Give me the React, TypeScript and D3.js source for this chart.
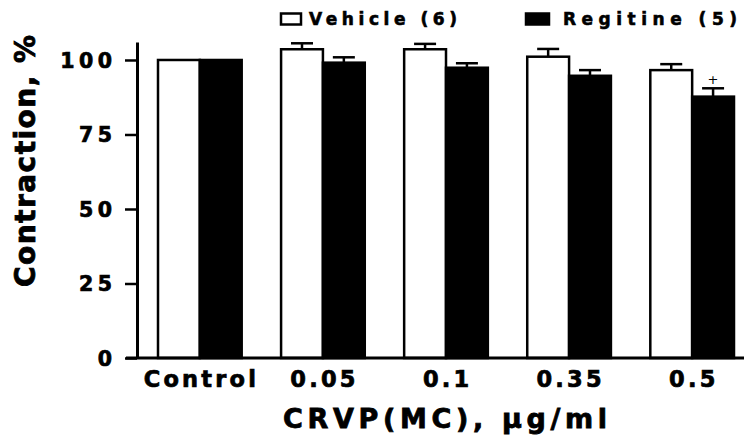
import React, { useRef, useEffect } from 'react'
import * as d3 from 'd3'

// values (mean, error bar above the mean)
const categories = ['Control', '0.05', '0.1', '0.35', '0.5']
const vehicleMean = [100, 103.6, 103.6, 101.1, 96.6]
const vehicleSem = [0, 2.0, 1.8, 2.6, 2.0]
const regitineMean = [100, 99.1, 97.4, 94.7, 87.7]
const regitineSem = [0, 1.8, 1.5, 1.9, 2.8]
const regitineMarked = [false, false, false, false, true] // '+' mark
const yTicks = [0, 25, 50, 75, 100]
const seriesNames = ['Vehicle (6)', 'Regitine (5)']

const FONT = "'DejaVu Sans', 'Liberation Sans', Arial, sans-serif"

const App = () => {
	const svgRef = useRef<SVGSVGElement | null>(null)
	const width = 744,
		height = 441

	useEffect(() => {
		const svg = d3.select(svgRef.current)
		svg.selectAll('*').remove()

		const y = d3.scaleLinear().domain([0, 106]).range([358, 42.1])
		const x = d3
			.scaleBand()
			.domain(categories)
			.range([142, 750])
			.paddingInner(0.32)
			.paddingOuter(0.13)
		const xSub = d3
			.scaleBand()
			.domain(['vehicle', 'regitine'])
			.range([0, x.bandwidth()])

		const bars = categories.flatMap((c, i) => [
			{ cat: c, key: 'vehicle', mean: vehicleMean[i], sem: vehicleSem[i], fill: '#fff', mark: false },
			{ cat: c, key: 'regitine', mean: regitineMean[i], sem: regitineSem[i], fill: '#000', mark: regitineMarked[i] },
		])
		const cx = (d: any) => x(d.cat)! + xSub(d.key)! + xSub.bandwidth() / 2

		// bars
		svg
			.append('g')
			.selectAll('rect')
			.data(bars)
			.enter()
			.append('rect')
			.attr('x', (d) => x(d.cat)! + xSub(d.key)!)
			.attr('y', (d) => y(d.mean))
			.attr('width', xSub.bandwidth())
			.attr('height', (d) => y(0) - y(d.mean))
			.attr('fill', (d) => d.fill)
			.attr('stroke', '#000')
			.attr('stroke-width', 2.5)

		// error bars (upper half only)
		const err = svg
			.append('g')
			.selectAll('g')
			.data(bars.filter((d) => d.sem > 0))
			.enter()
			.append('g')
			.attr('stroke', '#000')
			.attr('stroke-width', 2.5)
		err
			.append('line')
			.attr('x1', cx)
			.attr('x2', cx)
			.attr('y1', (d) => y(d.mean))
			.attr('y2', (d) => y(d.mean + d.sem))
		err
			.append('line')
			.attr('x1', (d) => cx(d) - 11)
			.attr('x2', (d) => cx(d) + 11)
			.attr('y1', (d) => y(d.mean + d.sem))
			.attr('y2', (d) => y(d.mean + d.sem))

		svg
			.append('g')
			.selectAll('text')
			.data(bars.filter((d) => d.mark))
			.enter()
			.append('text')
			.attr('x', cx)
			.attr('y', (d) => y(d.mean + d.sem) - 4)
			.attr('text-anchor', 'middle')
			.attr('font-family', FONT)
			.attr('font-size', 13)
			.text('+')

		// y axis
		const yLs = 4.5
		const yAxis = svg
			.append('g')
			.attr('transform', 'translate(137,0)')
			.call(d3.axisLeft(y).tickValues(yTicks).tickSize(12).tickSizeOuter(0).tickPadding(13))
		yAxis.select('.domain').attr('stroke-width', 3)
		yAxis.selectAll('.tick line').attr('stroke-width', 2.5)
		yAxis
			.selectAll('.tick text')
			.attr('font-family', FONT)
			.attr('font-weight', 'bold')
			.attr('font-size', 20.5)
			.attr('letter-spacing', yLs)
			.attr('dx', yLs)
			.attr('dy', '0.36em')
			.attr('fill', '#000')
			.attr('stroke', '#000')
			.attr('stroke-width', 0.7)

		// x axis
		svg
			.append('line')
			.attr('x1', 126)
			.attr('x2', 744)
			.attr('y1', y(0))
			.attr('y2', y(0))
			.attr('stroke', '#000')
			.attr('stroke-width', 3)
		const xLs = 3.2
		const xAxis = svg
			.append('g')
			.attr('transform', `translate(0,${y(0)})`)
			.call(d3.axisBottom(x).tickSize(0))
		xAxis.select('.domain').remove()
		xAxis
			.selectAll('.tick text')
			.attr('y', 29)
			.attr('dy', 0)
			.attr('dx', xLs / 2)
			.attr('font-family', FONT)
			.attr('font-weight', 'bold')
			.attr('font-size', 22.5)
			.attr('letter-spacing', xLs)
			.attr('fill', '#000')
			.attr('stroke', '#000')
			.attr('stroke-width', 0.7)

		// axis titles
		svg
			.append('text')
			.attr('x', 445)
			.attr('y', 428)
			.attr('text-anchor', 'middle')
			.attr('font-family', FONT)
			.attr('font-weight', 'bold')
			.attr('font-size', 27)
			.attr('stroke', '#000')
			.attr('stroke-width', 0.8)
			.attr('textLength', 324)
			.attr('lengthAdjust', 'spacing')
			.text('CRVP(MC), µg/ml')
		svg
			.append('text')
			.attr('transform', 'translate(35,161) rotate(-90)')
			.attr('text-anchor', 'middle')
			.attr('font-family', FONT)
			.attr('font-weight', 'bold')
			.attr('font-size', 28)
			.attr('stroke', '#000')
			.attr('stroke-width', 0.8)
			.attr('textLength', 252)
			.attr('lengthAdjust', 'spacing')
			.text('Contraction, %')

		// legend
		const legendX = [281, 526]
		const legendFill = ['#fff', '#000']
		const legendTextLen = [148, 174]
		const leg = svg
			.append('g')
			.selectAll('g')
			.data(seriesNames)
			.enter()
			.append('g')
			.attr('transform', (_, i) => `translate(${legendX[i]},13.5)`)
		leg
			.append('rect')
			.attr('width', (_, i) => (i === 0 ? 20 : 23))
			.attr('height', 11)
			.attr('fill', (_, i) => legendFill[i])
			.attr('stroke', '#000')
			.attr('stroke-width', 2.5)
		leg
			.append('text')
			.attr('x', (_, i) => (i === 0 ? 28 : 37))
			.attr('y', 11.5)
			.attr('font-family', FONT)
			.attr('font-weight', 'bold')
			.attr('font-size', 17)
			.attr('stroke', '#000')
			.attr('stroke-width', 0.6)
			.attr('textLength', (_, i) => legendTextLen[i])
			.attr('lengthAdjust', 'spacing')
			.text((d) => d)
	}, [])

	return (
		<svg
			ref={svgRef}
			width={width}
			height={height}
			style={{ position: 'absolute', left: 0, top: 0, background: '#fff' }}
		></svg>
	)
}

export default App
